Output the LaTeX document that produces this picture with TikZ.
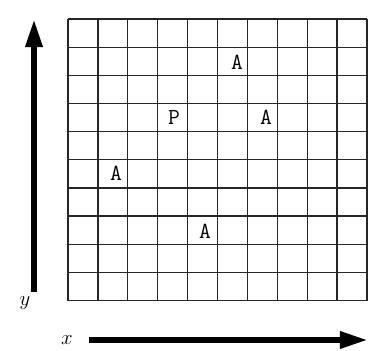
\documentclass[tikz,border=0pt]{standalone}
\usetikzlibrary{arrows.meta, positioning}

\begin{document}
\begin{tikzpicture}[
    x=1pt, y=-1pt,
    gridline/.style={line width=1.3pt, black!85},
    axis/.style={line width=6pt, -{Triangle[length=28pt, width=16pt]}},
    cell/.style={font=\ttfamily\fontsize{23}{23}\selectfont, inner sep=0pt},
    axislabel/.style={font=\fontsize{22}{22}\selectfont, inner sep=0pt}
]
\useasboundingbox (0,0) rectangle (368,351);

% Grid (10 x 10 cells)
\foreach \i in {0,...,10}
    \draw[gridline] (68+\i*29.9,19) -- (68+\i*29.9,300.5);
\foreach \j in {0,...,10}
    \draw[gridline] (68,19+\j*28.15) -- (367.5,19+\j*28.15);

% Points in the cells
\node[cell] (a1) at (237,62) {A};
\node[cell] (p)  at (174,117) {P};
\node[cell] (a2) at (266,117) {A};
\node[cell] (a3) at (116,173) {A};
\node[cell] (a4) at (205,231) {A};

% Axes
\coordinate (ybot) at (34,292);
\coordinate (ytop) at (34,19);
\coordinate (xleft) at (89,340);
\coordinate (xright) at (368,340);
\draw[axis] (ybot) -- (ytop);
\draw[axis] (xleft) -- (xright);
\node[axislabel] (ylab) at (25,303) {$y$};
\node[axislabel] (xlab) at (67,340) {$x$};
\end{tikzpicture}
\end{document}
